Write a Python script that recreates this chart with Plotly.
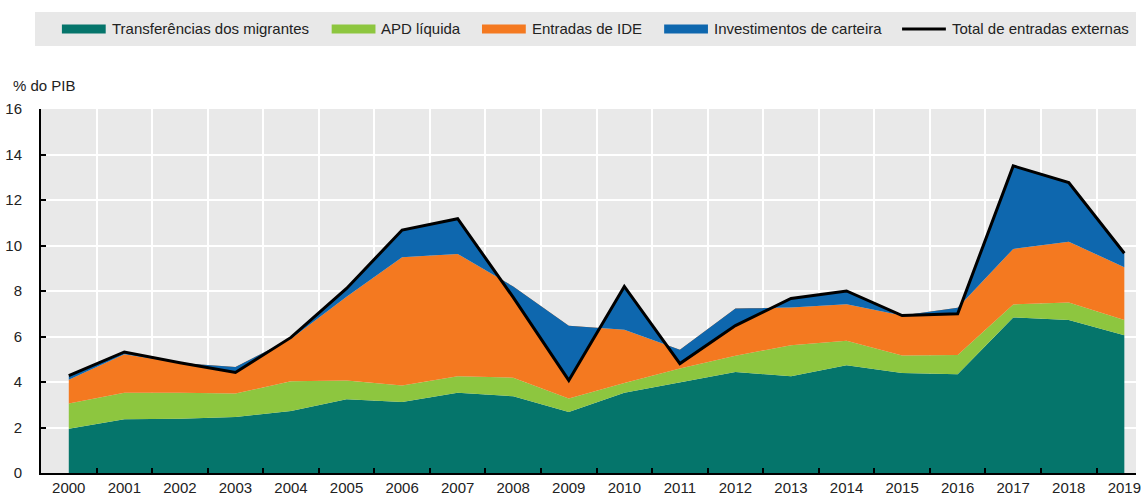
import plotly.graph_objects as go

# Entradas externas, % do PIB
anos = [str(a) for a in range(2000, 2020)]

transferencias = [1.95, 2.36, 2.39, 2.46, 2.72, 3.24, 3.12, 3.53, 3.37, 2.68,
                  3.53, 4.00, 4.44, 4.25, 4.74, 4.40, 4.34, 6.84, 6.72, 6.06]
apd_liquida = [1.10, 1.17, 1.14, 1.03, 1.31, 0.83, 0.73, 0.72, 0.82, 0.59,
               0.43, 0.59, 0.71, 1.37, 1.07, 0.76, 0.85, 0.57, 0.78, 0.66]
entradas_ide = [1.05, 1.69, 1.30, 1.17, 1.87, 3.68, 5.63, 5.38, 4.01, 3.20,
                2.34, 0.83, 2.08, 1.66, 1.61, 1.76, 2.07, 2.44, 2.67, 2.32]
carteira = [0.18, 0.10, 0.02, -0.24, 0.06, 0.36, 1.20, 1.55, -0.48, -2.40,
            1.90, -0.61, -0.75, 0.39, 0.58, 0.00, -0.26, 3.65, 2.60, 0.62]
total = [4.28, 5.32, 4.85, 4.42, 5.96, 8.11, 10.68, 11.18, 7.72, 4.07,
         8.20, 4.81, 6.48, 7.67, 8.00, 6.92, 7.00, 13.50, 12.77, 9.66]

y_ticks = [0, 2, 4, 6, 8, 10, 12, 14, 16]

FONT = "Liberation Sans, Arial, sans-serif"
TXT = "#222222"
GRAY = "#e9e9e9"

W, H = 1141, 496
M_L, M_R, M_T, M_B = 41, 0, 109, 23
PW, PH = W - M_L - M_R, H - M_T - M_B


def px_x(px):
    """Horizontal pixel position -> paper coordinate."""
    return (px - M_L) / PW


def px_y(py):
    """Vertical pixel position (from top) -> paper coordinate."""
    return (H - M_B - py) / PH


series = [
    ("Transferências dos migrantes", transferencias, "#05756b"),
    ("APD líquida", apd_liquida, "#8dc63f"),
    ("Entradas de IDE", entradas_ide, "#f47920"),
    ("Investimentos de carteira", carteira, "#0e67ae"),
]
total_nome = "Total de entradas externas"

fig = go.Figure()
for nome, valores, cor in series:
    fig.add_trace(go.Scatter(
        x=anos, y=valores, name=nome, stackgroup="fluxos",
        mode="lines", line=dict(width=0, color=cor), fillcolor=cor,
        showlegend=False,
    ))

fig.add_trace(go.Scatter(
    x=anos, y=total, name=total_nome, mode="lines",
    line=dict(color="black", width=3), showlegend=False,
))

# Legend band across the top: swatch start positions (px) for each entry
legenda = [
    (series[0][0], series[0][2], "rect", 62),
    (series[1][0], series[1][2], "rect", 333),
    (series[2][0], series[2][2], "rect", 484),
    (series[3][0], series[3][2], "rect", 667),
    (total_nome, "black", "line", 906),
]
SW, LEG_Y = 44, 29

shapes = [dict(
    type="rect", xref="paper", yref="paper", layer="below",
    x0=px_x(35), x1=1.0, y0=px_y(46), y1=px_y(12),
    fillcolor="#e8e8e8", line=dict(width=0),
)]
annotations = []
for nome, cor, tipo, x0 in legenda:
    if tipo == "rect":
        shapes.append(dict(
            type="rect", xref="paper", yref="paper",
            x0=px_x(x0), x1=px_x(x0 + SW),
            y0=px_y(LEG_Y + 4.5), y1=px_y(LEG_Y - 4.5),
            fillcolor=cor, line=dict(width=0),
        ))
    else:
        shapes.append(dict(
            type="line", xref="paper", yref="paper",
            x0=px_x(x0), x1=px_x(x0 + SW), y0=px_y(LEG_Y), y1=px_y(LEG_Y),
            line=dict(color=cor, width=3),
        ))
    annotations.append(dict(
        text=nome, xref="paper", yref="paper",
        x=px_x(x0 + SW + 4), y=px_y(LEG_Y), xanchor="left", yanchor="middle",
        showarrow=False, font=dict(size=15, color=TXT),
    ))

annotations.append(dict(
    text="% do PIB", xref="paper", yref="paper",
    x=px_x(11), y=px_y(85), xanchor="left", yanchor="middle",
    showarrow=False, font=dict(size=15, color=TXT),
))

fig.update_layout(
    width=W, height=H,
    margin=dict(l=M_L, r=M_R, t=M_T, b=M_B),
    paper_bgcolor="white", plot_bgcolor=GRAY,
    font=dict(family=FONT, size=15, color=TXT),
    showlegend=False,
    shapes=shapes, annotations=annotations,
)

fig.update_xaxes(
    type="category", range=[-0.5, 19.21],
    tickson="boundaries", ticks="inside", ticklen=5, tickwidth=1.5,
    tickcolor="black", showgrid=True, gridcolor="white", gridwidth=2,
    showline=True, linecolor="black", linewidth=2,
    tickfont=dict(size=15), zeroline=False,
)
fig.update_yaxes(
    range=[0, 16], tickvals=y_ticks, ticks="inside", ticklen=5, tickwidth=1.5,
    tickcolor="black", showgrid=True, gridcolor="white", gridwidth=2,
    showline=True, linecolor="black", linewidth=2, zeroline=False,
    tickfont=dict(size=15), ticklabelstandoff=14,
)

fig.write_html("out.html")
